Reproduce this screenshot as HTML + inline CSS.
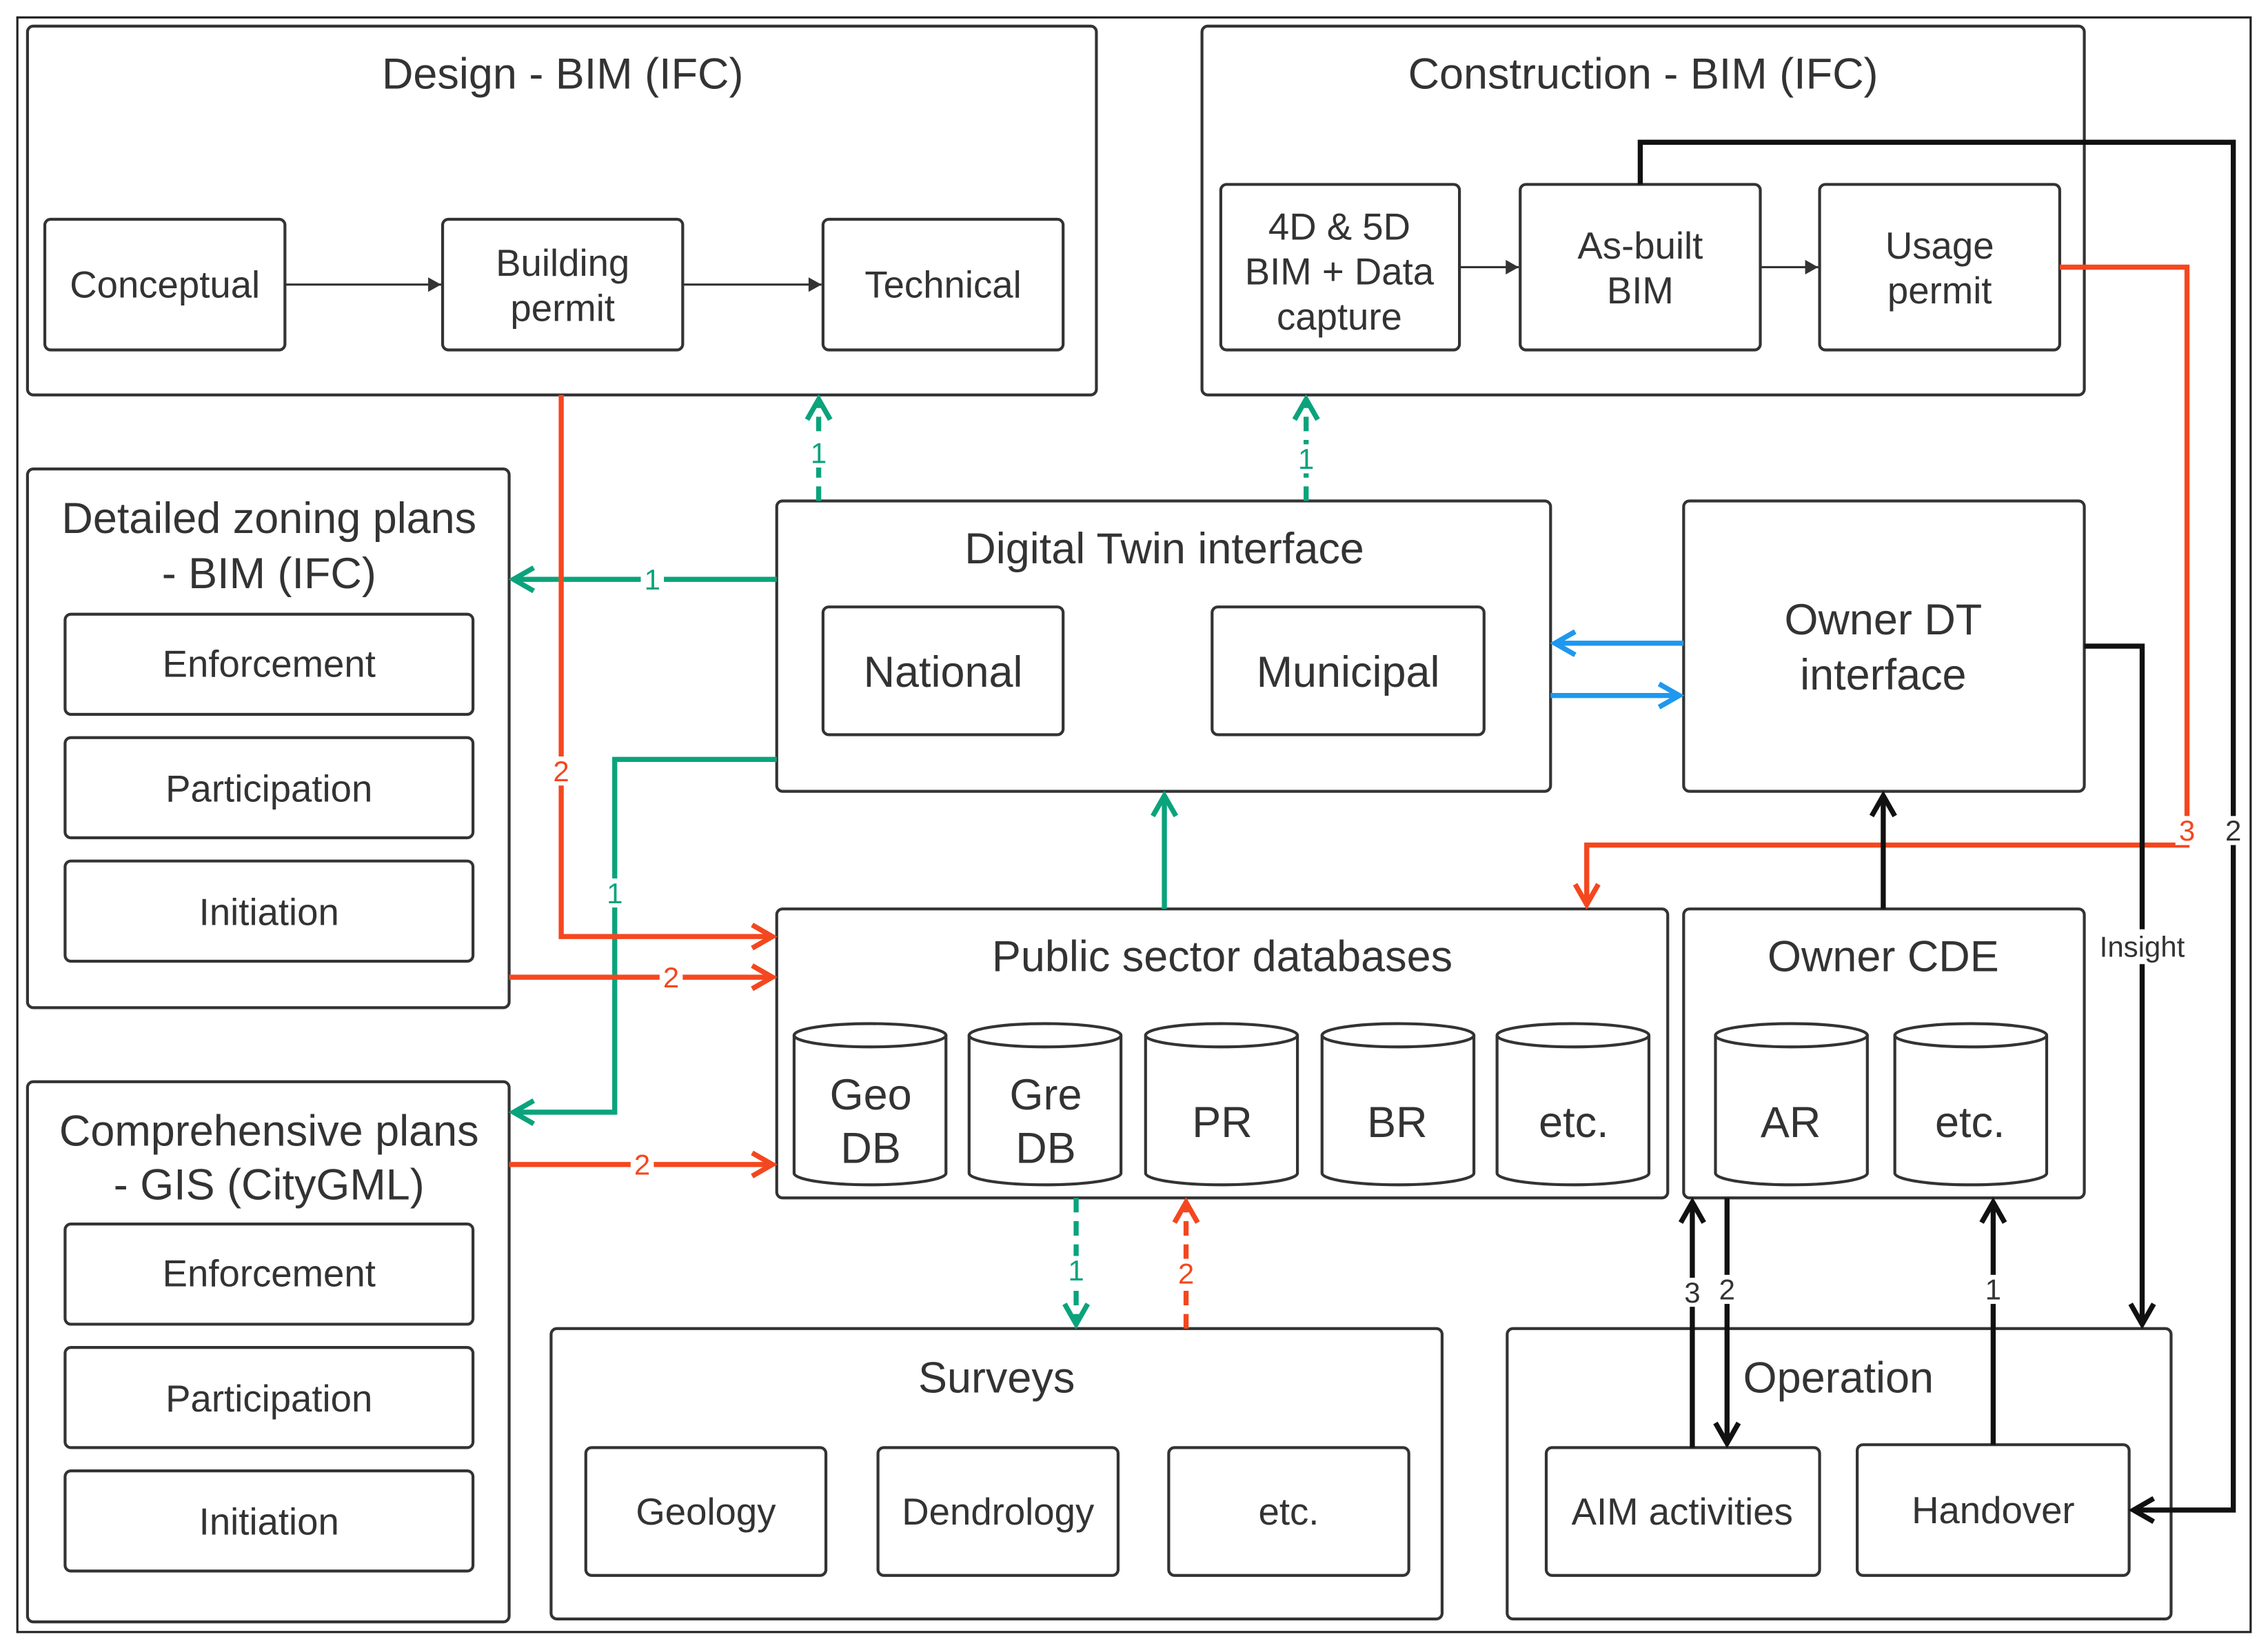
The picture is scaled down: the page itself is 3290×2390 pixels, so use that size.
<!DOCTYPE html>
<html><head><meta charset="utf-8"><style>
html,body{margin:0;padding:0;background:#fff;}
svg{display:block;}
text{font-family:"Liberation Sans",sans-serif;fill:#333;}
</style></head><body>
<svg width="3290" height="2390" viewBox="0 0 1568 1135" preserveAspectRatio="none" xmlns="http://www.w3.org/2000/svg">
<defs>
<marker id="ag" markerUnits="userSpaceOnUse" markerWidth="22" markerHeight="22" refX="16" refY="10" orient="auto"><path d="M2,2 L16,10 L2,18" fill="none" stroke="#0aa37c" stroke-width="3.5"/></marker>
<marker id="ar" markerUnits="userSpaceOnUse" markerWidth="22" markerHeight="22" refX="16" refY="10" orient="auto"><path d="M2,2 L16,10 L2,18" fill="none" stroke="#f4471f" stroke-width="3.5"/></marker>
<marker id="ab" markerUnits="userSpaceOnUse" markerWidth="22" markerHeight="22" refX="16" refY="10" orient="auto"><path d="M2,2 L16,10 L2,18" fill="none" stroke="#1e98ee" stroke-width="3.5"/></marker>
<marker id="ak" markerUnits="userSpaceOnUse" markerWidth="22" markerHeight="22" refX="16" refY="10" orient="auto"><path d="M2,2 L16,10 L2,18" fill="none" stroke="#111" stroke-width="3.5"/></marker>
<marker id="as" markerUnits="userSpaceOnUse" markerWidth="12" markerHeight="12" refX="10" refY="6" orient="auto"><path d="M1,1 L10,6 L1,11 Z" fill="#333"/></marker>
</defs>
<rect x="12" y="12" width="1544" height="1112" fill="none" stroke="#222" stroke-width="1.5"/>
<g fill="#fff" stroke="#333" stroke-width="2">
<rect x="19" y="18" width="739" height="254" rx="4"/>
<rect x="31" y="151" width="166" height="90" rx="4"/>
<rect x="306" y="151" width="166" height="90" rx="4"/>
<rect x="569" y="151" width="166" height="90" rx="4"/>
<rect x="831" y="18" width="610" height="254" rx="4"/>
<rect x="844" y="127" width="165" height="114" rx="4"/>
<rect x="1051" y="127" width="166" height="114" rx="4"/>
<rect x="1258" y="127" width="166" height="114" rx="4"/>
<rect x="19" y="323" width="333" height="371" rx="4"/>
<rect x="45" y="423" width="282" height="69" rx="4"/>
<rect x="45" y="508" width="282" height="69" rx="4"/>
<rect x="45" y="593" width="282" height="69" rx="4"/>
<rect x="19" y="745" width="333" height="372" rx="4"/>
<rect x="45" y="843" width="282" height="69" rx="4"/>
<rect x="45" y="928" width="282" height="69" rx="4"/>
<rect x="45" y="1013" width="282" height="69" rx="4"/>
<rect x="537" y="345" width="535" height="200" rx="4"/>
<rect x="569" y="418" width="166" height="88" rx="4"/>
<rect x="838" y="418" width="188" height="88" rx="4"/>
<rect x="1164" y="345" width="277" height="200" rx="4"/>
<rect x="537" y="626" width="616" height="199" rx="4"/>
<rect x="1164" y="626" width="277" height="199" rx="4"/>
<rect x="381" y="915" width="616" height="200" rx="4"/>
<rect x="405" y="997" width="166" height="88" rx="4"/>
<rect x="607" y="997" width="166" height="88" rx="4"/>
<rect x="808" y="997" width="166" height="88" rx="4"/>
<rect x="1042" y="915" width="459" height="200" rx="4"/>
<rect x="1069" y="997" width="189" height="88" rx="4"/>
<rect x="1284" y="995" width="188" height="90" rx="4"/>
</g>
<!-- cylinders -->
<g fill="#fff" stroke="#333" stroke-width="2">
<path d="M549,713 v95 a52.5,8 0 0 0 105,0 v-95"/><ellipse cx="601.5" cy="713" rx="52.5" ry="8"/>
<path d="M670,713 v95 a52.5,8 0 0 0 105,0 v-95"/><ellipse cx="722.5" cy="713" rx="52.5" ry="8"/>
<path d="M792,713 v95 a52.5,8 0 0 0 105,0 v-95"/><ellipse cx="844.5" cy="713" rx="52.5" ry="8"/>
<path d="M914,713 v95 a52.5,8 0 0 0 105,0 v-95"/><ellipse cx="966.5" cy="713" rx="52.5" ry="8"/>
<path d="M1035,713 v95 a52.5,8 0 0 0 105,0 v-95"/><ellipse cx="1087.5" cy="713" rx="52.5" ry="8"/>
<path d="M1186,713 v95 a52.5,8 0 0 0 105,0 v-95"/><ellipse cx="1238.5" cy="713" rx="52.5" ry="8"/>
<path d="M1310,713 v95 a52.5,8 0 0 0 105,0 v-95"/><ellipse cx="1362.5" cy="713" rx="52.5" ry="8"/>
</g>
<!-- texts -->
<g text-anchor="middle" font-size="30">
<text x="389" y="61">Design - BIM (IFC)</text>
<text x="1136" y="61">Construction - BIM (IFC)</text>
<text x="186" y="367">Detailed zoning plans</text>
<text x="186" y="405">- BIM (IFC)</text>
<text x="186" y="789">Comprehensive plans</text>
<text x="186" y="826">- GIS (CityGML)</text>
<text x="805" y="388">Digital Twin interface</text>
<text x="1302" y="437">Owner DT</text>
<text x="1302" y="475">interface</text>
<text x="845" y="669">Public sector databases</text>
<text x="1302" y="669">Owner CDE</text>
<text x="689" y="959">Surveys</text>
<text x="1271" y="959">Operation</text>
<text x="652" y="473">National</text>
<text x="932" y="473">Municipal</text>
<text x="602" y="764">Geo</text><text x="602" y="801">DB</text>
<text x="723" y="764">Gre</text><text x="723" y="801">DB</text>
<text x="845" y="783">PR</text>
<text x="966" y="783">BR</text>
<text x="1088" y="783">etc.</text>
<text x="1238" y="783">AR</text>
<text x="1362" y="783">etc.</text>
</g>
<g text-anchor="middle" font-size="26">
<text x="114" y="205">Conceptual</text>
<text x="389" y="190">Building</text><text x="389" y="221">permit</text>
<text x="652" y="205">Technical</text>
<text x="926" y="165">4D &amp; 5D</text><text x="926" y="196">BIM + Data</text><text x="926" y="227">capture</text>
<text x="1134" y="178">As-built</text><text x="1134" y="209">BIM</text>
<text x="1341" y="178">Usage</text><text x="1341" y="209">permit</text>
<text x="186" y="466">Enforcement</text>
<text x="186" y="552">Participation</text>
<text x="186" y="637">Initiation</text>
<text x="186" y="886">Enforcement</text>
<text x="186" y="972">Participation</text>
<text x="186" y="1057">Initiation</text>
<text x="488" y="1050">Geology</text>
<text x="690" y="1050">Dendrology</text>
<text x="891" y="1050">etc.</text>
<text x="1163" y="1050">AIM activities</text>
<text x="1378" y="1049">Handover</text>
</g>
<!-- small black arrows -->
<g stroke="#333" stroke-width="1.5" fill="none" marker-end="url(#as)">
<line x1="197" y1="196" x2="305" y2="196"/>
<line x1="472" y1="196" x2="568" y2="196"/>
<line x1="1009" y1="184" x2="1050" y2="184"/>
<line x1="1217" y1="184" x2="1257" y2="184"/>
</g>
<!-- green -->
<g stroke="#0aa37c" stroke-width="3.5" fill="none" marker-end="url(#ag)">
<line x1="566" y1="345" x2="566" y2="275" stroke-dasharray="10,6"/>
<line x1="903" y1="345" x2="903" y2="275" stroke-dasharray="10,6"/>
<line x1="537" y1="399" x2="355" y2="399"/>
<polyline points="537,523 425,523 425,766 355,766"/>
<line x1="805" y1="626" x2="805" y2="548"/>
<line x1="744" y1="825" x2="744" y2="912" stroke-dasharray="10,6"/>
</g>
<!-- red -->
<g stroke="#f4471f" stroke-width="3.5" fill="none" marker-end="url(#ar)">
<line x1="820" y1="915" x2="820" y2="828" stroke-dasharray="10,6"/>
<polyline points="388,272 388,645 534,645"/>
<line x1="352" y1="673" x2="534" y2="673"/>
<line x1="352" y1="802" x2="534" y2="802"/>
<polyline points="1424,184 1512,184 1512,582 1097,582 1097,623"/>
</g>
<!-- blue -->
<g stroke="#1e98ee" stroke-width="3.5" fill="none" marker-end="url(#ab)">
<line x1="1164" y1="443" x2="1075" y2="443"/>
<line x1="1072" y1="479" x2="1161" y2="479"/>
</g>
<!-- black -->
<g stroke="#111" stroke-width="3.5" fill="none" marker-end="url(#ak)">
<polyline points="1134,127 1134,98 1544,98 1544,1040 1475,1040"/>
<polyline points="1441,445 1481,445 1481,912"/>
<line x1="1302" y1="626" x2="1302" y2="548"/>
<line x1="1170" y1="997" x2="1170" y2="828"/>
<line x1="1194" y1="825" x2="1194" y2="994"/>
<line x1="1378" y1="995" x2="1378" y2="828"/>
</g>
<!-- labels -->
<g font-size="20" text-anchor="middle">
<rect x="558" y="302" width="16" height="20" fill="#fff"/><text x="566" y="319" style="fill:#0aa37c">1</text>
<rect x="895" y="306" width="16" height="20" fill="#fff"/><text x="903" y="323" style="fill:#0aa37c">1</text>
<rect x="443" y="389" width="16" height="20" fill="#fff"/><text x="451" y="406" style="fill:#0aa37c">1</text>
<rect x="417" y="605" width="16" height="20" fill="#fff"/><text x="425" y="622" style="fill:#0aa37c">1</text>
<rect x="736" y="865" width="16" height="20" fill="#fff"/><text x="744" y="882" style="fill:#0aa37c">1</text>
<rect x="380" y="521" width="16" height="20" fill="#fff"/><text x="388" y="538" style="fill:#f4471f">2</text>
<rect x="456" y="663" width="16" height="20" fill="#fff"/><text x="464" y="680" style="fill:#f4471f">2</text>
<rect x="436" y="792" width="16" height="20" fill="#fff"/><text x="444" y="809" style="fill:#f4471f">2</text>
<rect x="812" y="867" width="16" height="20" fill="#fff"/><text x="820" y="884" style="fill:#f4471f">2</text>
<rect x="1504" y="562" width="16" height="20" fill="#fff"/><text x="1512" y="579" style="fill:#f4471f">3</text>
<rect x="1536" y="562" width="16" height="20" fill="#fff"/><text x="1544" y="579" style="fill:#333">2</text>
<rect x="1162" y="880" width="16" height="20" fill="#fff"/><text x="1170" y="897">3</text>
<rect x="1186" y="878" width="16" height="20" fill="#fff"/><text x="1194" y="895">2</text>
<rect x="1370" y="878" width="16" height="20" fill="#fff"/><text x="1378" y="895">1</text>
<rect x="1448" y="640" width="66" height="24" fill="#fff"/><text x="1481" y="659">Insight</text>
</g>
</svg>
</body></html>
